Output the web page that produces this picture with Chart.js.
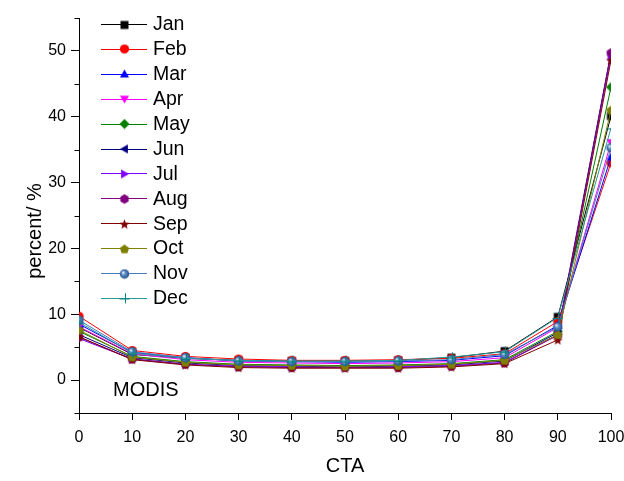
<!DOCTYPE html>
<html>
<head>
<meta charset="utf-8">
<script src="https://cdn.jsdelivr.net/npm/chart.js@4/dist/chart.umd.min.js"></script>
<style>
  html, body { margin: 0; padding: 0; background: #ffffff; }
  #wrap { width: 624px; height: 481px; }
</style>
</head>
<body>
<div id="wrap"><canvas id="c" width="624" height="481"></canvas></div>
<script>
// Cloud-top-angle bins (x axis)
const cta = [0, 10, 20, 30, 40, 50, 60, 70, 80, 90, 100];
const months = ['Jan', 'Feb', 'Mar', 'Apr', 'May', 'Jun', 'Jul', 'Aug', 'Sep', 'Oct', 'Nov', 'Dec'];

// Monthly percentage per CTA bin
const jan = [8.0, 3.9, 3.3, 3.0, 2.9, 2.9, 3.0, 3.4, 4.4, 9.6, 40.1];
const feb = [9.7, 4.5, 3.6, 3.2, 3.0, 3.0, 3.1, 3.3, 4.0, 8.9, 33.0];
const mar = [8.5, 4.2, 3.4, 2.9, 2.8, 2.7, 2.8, 3.0, 3.7, 8.3, 33.9];
const apr = [8.1, 4.0, 3.1, 2.7, 2.6, 2.5, 2.6, 2.8, 3.4, 8.0, 36.1];
const may = [7.4, 3.6, 2.8, 2.4, 2.3, 2.2, 2.3, 2.5, 3.1, 7.4, 44.5];
const jun = [6.9, 3.4, 2.6, 2.2, 2.1, 2.0, 2.1, 2.3, 2.9, 7.2, 49.8];
const jul = [6.3, 3.2, 2.4, 2.1, 2.0, 1.9, 2.0, 2.2, 2.7, 6.9, 49.2];
const aug = [6.5, 3.2, 2.4, 2.0, 1.9, 1.9, 1.9, 2.1, 2.6, 6.8, 49.7];
const sep = [6.6, 3.1, 2.3, 1.9, 1.8, 1.8, 1.8, 2.0, 2.5, 6.1, 48.6];
const oct = [7.6, 3.5, 2.7, 2.3, 2.2, 2.1, 2.2, 2.4, 3.0, 6.9, 41.0];
const nov = [9.1, 4.3, 3.4, 2.9, 2.8, 2.8, 2.9, 3.1, 3.9, 8.1, 35.3];
const dec = [8.8, 4.1, 3.3, 3.0, 2.9, 2.9, 3.0, 3.5, 4.3, 9.5, 38.3];
const seriesValues = [jan, feb, mar, apr, may, jun, jul, aug, sep, oct, nov, dec];

// Labelled y ticks (minor ticks sit halfway between)
const yTickLabels = [0, 10, 20, 30, 40, 50];
const xTickLabels = [0, 10, 20, 30, 40, 50, 60, 70, 80, 90, 100];

const lineColors = ['#000000', '#ff0000', '#0000ff', '#ff00ff', '#008000', '#000080',
                    '#8000ff', '#800080', '#800000', '#808000', '#4a7ab8', '#2a9a9a'];
const markerColors = ['#000000', '#ff0000', '#0000ff', '#ff00ff', '#008000', '#000080',
                      '#8000ff', '#800080', '#800000', '#808000', '#2f62a0', '#008080'];
const markerKinds = ['square', 'circle', 'triUp', 'triDown', 'diamond', 'triLeft',
                     'triRight', 'hexagon', 'star', 'pentagon', 'ball', 'plus'];

const FONT = "'Liberation Sans', Arial, sans-serif";

function polygon(ctx, cx, cy, r, n, startAngle) {
  ctx.beginPath();
  for (let i = 0; i < n; i++) {
    const a = startAngle + i * 2 * Math.PI / n;
    const px = cx + r * Math.cos(a), py = cy + r * Math.sin(a);
    if (i === 0) ctx.moveTo(px, py); else ctx.lineTo(px, py);
  }
  ctx.closePath();
}

// Builds a small canvas used as a point style
function makeMarker(kind, color, size) {
  const cv = document.createElement('canvas');
  cv.width = size; cv.height = size;
  const ctx = cv.getContext('2d');
  const c = size / 2;
  const r = size / 2 - 0.5;
  ctx.fillStyle = color;
  ctx.strokeStyle = color;
  ctx.lineWidth = 1;
  switch (kind) {
    case 'square':
      ctx.fillRect(c - r * 0.8, c - r * 0.8, r * 1.6, r * 1.6);
      break;
    case 'circle':
      ctx.beginPath(); ctx.arc(c, c, r * 0.92, 0, 2 * Math.PI); ctx.fill();
      break;
    case 'triUp':
      polygon(ctx, c, c + r * 0.15, r * 1.05, 3, -Math.PI / 2); ctx.fill();
      break;
    case 'triDown':
      polygon(ctx, c, c - r * 0.15, r * 1.05, 3, Math.PI / 2); ctx.fill();
      break;
    case 'triLeft':
      polygon(ctx, c + r * 0.15, c, r * 1.05, 3, Math.PI); ctx.fill();
      break;
    case 'triRight':
      polygon(ctx, c - r * 0.15, c, r * 1.05, 3, 0); ctx.fill();
      break;
    case 'diamond':
      polygon(ctx, c, c, r, 4, -Math.PI / 2); ctx.fill();
      break;
    case 'hexagon':
      polygon(ctx, c, c, r * 0.95, 6, Math.PI / 2); ctx.fill();
      break;
    case 'pentagon':
      polygon(ctx, c, c + r * 0.08, r * 0.98, 5, -Math.PI / 2); ctx.fill();
      break;
    case 'star': {
      ctx.beginPath();
      for (let i = 0; i < 10; i++) {
        const a = -Math.PI / 2 + i * Math.PI / 5;
        const rr = i % 2 === 0 ? r * 1.05 : r * 0.45;
        const px = c + rr * Math.cos(a), py = c + 0.6 + rr * Math.sin(a);
        if (i === 0) ctx.moveTo(px, py); else ctx.lineTo(px, py);
      }
      ctx.closePath(); ctx.fill();
      break;
    }
    case 'ball': {
      const g = ctx.createRadialGradient(c - r * 0.3, c - r * 0.3, 0.5, c, c, r);
      g.addColorStop(0, '#dde8f5');
      g.addColorStop(0.35, '#5d8cc4');
      g.addColorStop(1, '#1f4f8a');
      ctx.fillStyle = g;
      ctx.beginPath(); ctx.arc(c, c, r * 0.95, 0, 2 * Math.PI); ctx.fill();
      break;
    }
    case 'plus':
      ctx.beginPath();
      ctx.moveTo(Math.round(c) + 0.5, 0.5); ctx.lineTo(Math.round(c) + 0.5, size - 0.5);
      ctx.moveTo(0.5, Math.round(c) + 0.5); ctx.lineTo(size - 0.5, Math.round(c) + 0.5);
      ctx.stroke();
      break;
  }
  return cv;
}

const plotMarkers = markerKinds.map((k, i) => makeMarker(k, markerColors[i], 11));
const legendMarkers = markerKinds.map((k, i) => makeMarker(k, markerColors[i], 11));

const datasets = months.map((m, i) => ({
  label: m,
  data: cta.map((x, j) => ({ x: x, y: seriesValues[i][j] })),
  borderColor: lineColors[i],
  backgroundColor: markerColors[i],
  borderWidth: 1,
  pointStyle: plotMarkers[i],
  pointRadius: 5,
  pointHoverRadius: 5,
  tension: 0,
  order: months.length - i
}));

// Minor y ticks, y-axis title, in-plot legend and the MODIS tag
const extras = {
  id: 'extras',
  afterDraw(chart) {
    const ctx = chart.ctx;
    const ys = chart.scales.y;
    const area = chart.chartArea;
    ctx.save();
    ctx.strokeStyle = '#000';
    ctx.lineWidth = 1;
    for (let v = ys.min; v <= ys.max + 1e-9; v += 5) {
      if (yTickLabels.includes(v)) continue;
      const py = Math.round(ys.getPixelForValue(v)) + 0.5;
      ctx.beginPath();
      ctx.moveTo(area.left - 4.5, py);
      ctx.lineTo(area.left, py);
      ctx.stroke();
    }

    // y-axis title
    ctx.save();
    ctx.translate(35, 231);
    ctx.rotate(-Math.PI / 2);
    ctx.font = '20px ' + FONT;
    ctx.fillStyle = '#000';
    ctx.textAlign = 'center';
    ctx.textBaseline = 'middle';
    ctx.fillText('percent/ %', 0, 0);
    ctx.restore();

    // legend
    const lx0 = 101, lx1 = 147, mx = 124, tx = 153;
    ctx.font = '19.5px ' + FONT;
    ctx.textBaseline = 'middle';
    ctx.textAlign = 'left';
    chart.data.datasets.forEach((ds, i) => {
      const y = 24 + i * 24.9;
      const yl = Math.round(y) + 0.5;
      ctx.strokeStyle = lineColors[i];
      ctx.beginPath(); ctx.moveTo(lx0, yl); ctx.lineTo(lx1, yl); ctx.stroke();
      const mk = legendMarkers[i];
      ctx.drawImage(mk, Math.round(mx - mk.width / 2), Math.round(y - mk.height / 2) + 0.5);
      ctx.fillStyle = '#000';
      ctx.fillText(ds.label, tx, y + 1);
    });

    ctx.font = '20px ' + FONT;
    ctx.fillStyle = '#000';
    ctx.fillText('MODIS', area.left + 34, area.bottom - 23);
    ctx.restore();
  }
};

new Chart(document.getElementById('c'), {
  type: 'line',
  data: { datasets: datasets },
  options: {
    responsive: false,
    animation: false,
    devicePixelRatio: 1,
    layout: { padding: { top: 18, right: 13, left: 0, bottom: 0 } },
    plugins: {
      legend: { display: false },
      tooltip: { enabled: false }
    },
    scales: {
      x: {
        type: 'linear',
        min: 0,
        max: 100,
        afterFit(s) { s.height = 68; s.paddingRight = 0; s.paddingLeft = 0; },
        afterBuildTicks(s) { s.ticks = xTickLabels.map(v => ({ value: v })); },
        ticks: {
          color: '#000',
          font: { family: FONT, size: 16 },
          padding: 8,
          maxRotation: 0,
          autoSkip: false
        },
        grid: { drawOnChartArea: false, drawTicks: true, tickLength: 7, tickColor: '#000' },
        border: { display: true, color: '#000', width: 1 },
        title: {
          display: true,
          text: 'CTA',
          color: '#000',
          font: { family: FONT, size: 20 },
          padding: { top: 0, bottom: 3 }
        }
      },
      y: {
        type: 'linear',
        min: -5,
        max: 55,
        afterFit(s) { s.width = 79; },
        ticks: {
          stepSize: 5,
          color: '#000',
          font: { family: FONT, size: 16 },
          padding: 5,
          autoSkip: false,
          callback: v => (yTickLabels.includes(v) ? String(v) : '')
        },
        grid: {
          drawOnChartArea: false,
          drawTicks: true,
          tickLength: 8,
          tickColor: c => (c.tick && yTickLabels.includes(c.tick.value) ? '#000' : 'rgba(0,0,0,0)')
        },
        border: { display: true, color: '#000', width: 1 },
        title: { display: false }
      }
    }
  },
  plugins: [extras]
});
</script>
</body>
</html>
